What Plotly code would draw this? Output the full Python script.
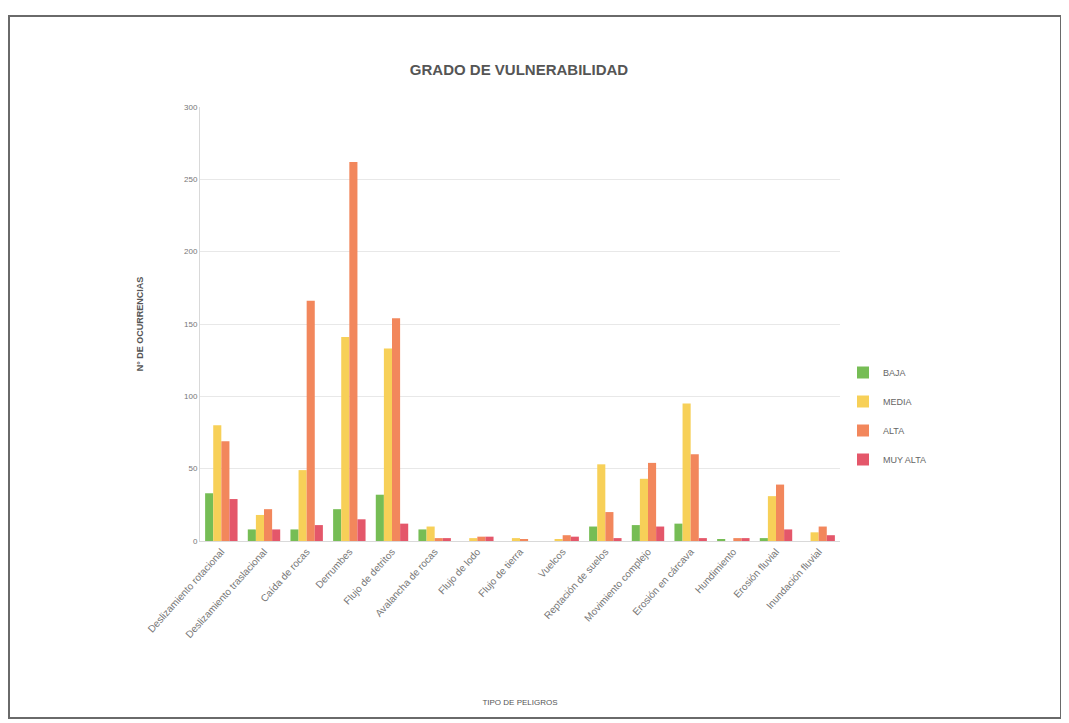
import plotly.graph_objects as go

categories = [
    "Deslizamiento rotacional", "Deslizamiento traslacional", "Caída de rocas",
    "Derrumbes", "Flujo de detritos", "Avalancha de rocas", "Flujo de lodo",
    "Flujo de tierra", "Vuelcos", "Reptación de suelos", "Movimiento complejo",
    "Erosión en cárcava", "Hundimiento", "Erosión fluvial", "Inundación fluvial",
]
baja = [33, 8, 8, 22, 32, 8, 0, 0, 0, 10, 11, 12, 1, 2, 0]
media = [80, 18, 49, 141, 133, 10, 2, 2, 1, 53, 43, 95, 0, 31, 6]
alta = [69, 22, 166, 262, 154, 2, 3, 1, 4, 20, 54, 60, 2, 39, 10]
muy_alta = [29, 8, 11, 15, 12, 2, 3, 0, 3, 2, 10, 2, 2, 8, 4]

series_names = ["BAJA", "MEDIA", "ALTA", "MUY ALTA"]
series_values = [baja, media, alta, muy_alta]
colors = ["#76bd55", "#f7d058", "#f2875c", "#e4576a"]

y_ticks = [0, 50, 100, 150, 200, 250, 300]

fig = go.Figure()
for name, vals, col in zip(series_names, series_values, colors):
    fig.add_trace(go.Bar(x=categories, y=vals, name=name, marker_color=col,
                         marker_line_width=0, legendgroup=name))

OFF = 8  # browser body margin
W, H = 1069 - OFF, 723 - OFF
L, R, T, B = 200 - OFF, 840 - OFF, 107 - OFF, 541 - OFF

def px(x):
    return (x - OFF - L) / (R - L)

def py(y):
    return (B - (y - OFF)) / (B - T)

fig.update_layout(
    width=W, height=H,
    margin=dict(l=L, r=W - R, t=T, b=H - B),
    paper_bgcolor="white", plot_bgcolor="white",
    barmode="group", bargap=0.24, bargroupgap=0.0,
    font=dict(family="Liberation Sans, Arial", color="#555555", size=9),
    title=dict(text="<b>GRADO DE VULNERABILIDAD</b>", x=(519 - OFF) / W,
               xanchor="center", y=1 - (70 - OFF) / H, yanchor="middle",
               font=dict(size=15, color="#555555")),
    legend=dict(x=px(843), y=py(358), xanchor="left", yanchor="top",
                font=dict(size=9, color="#666666"), itemwidth=30,
                tracegroupgap=10, bgcolor="rgba(0,0,0,0)"),
    showlegend=True,
    shapes=[dict(type="rect", xref="paper", yref="paper",
                 x0=px(9), x1=px(1061), y0=py(718), y1=py(16),
                 line=dict(color="#6a6a6a", width=2))],
)
fig.update_yaxes(range=[0, 300], tickvals=y_ticks, showgrid=True,
                 gridcolor="#e8e8e8", gridwidth=1, showline=True,
                 linecolor="#d9d9d9", zeroline=False,
                 tickfont=dict(size=8, color="#777777"),
                 title=dict(text="<b>N° DE OCURRENCIAS</b>", standoff=38,
                            font=dict(size=9, color="#555555")))
fig.update_xaxes(tickangle=-48, showline=True, linecolor="#d9d9d9",
                 tickfont=dict(size=10, color="#777777"),
                 title=dict(text="TIPO DE PELIGROS", standoff=60,
                            font=dict(size=8, color="#555555")))

fig.write_html("out.html")
